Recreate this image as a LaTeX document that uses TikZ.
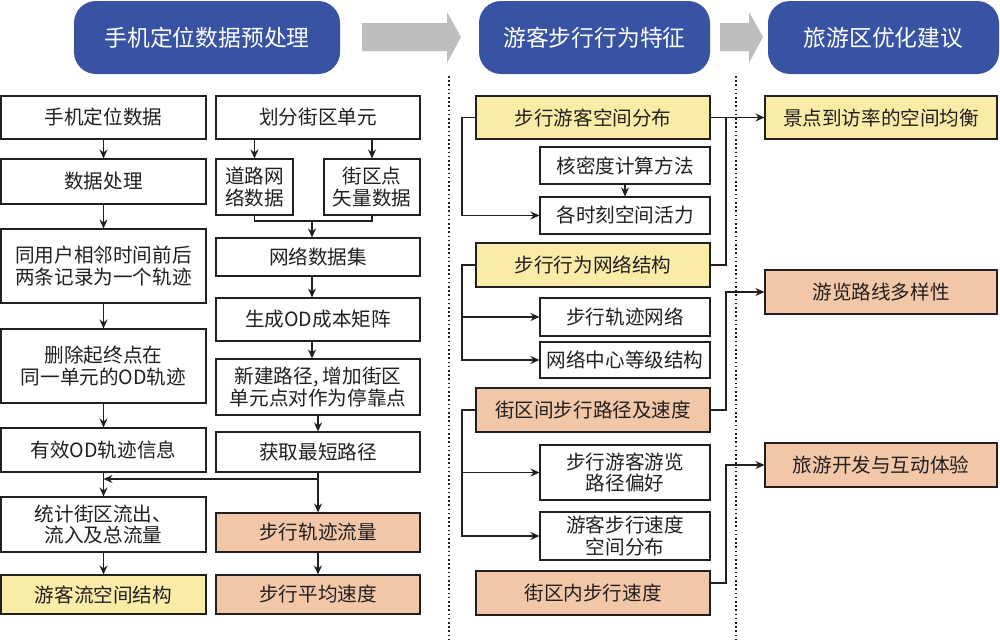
\documentclass[tikz,border=0pt]{standalone}
\usepackage{fontspec}
\setmainfont{Noto Sans CJK SC}
\usetikzlibrary{arrows.meta}
\definecolor{navy}{HTML}{3953A4}
\definecolor{yel}{HTML}{FAEBA6}
\definecolor{pch}{HTML}{F2C7A8}
\definecolor{ln}{HTML}{231F20}
\definecolor{garr}{HTML}{BEBEBE}
\newcommand\BX[7]{\node[box,#2,minimum width={#5-#3},minimum height={#6-#4}] (#1) at ({(#3+#5)/2},{(#4+#6)/2}) {#7};}
\begin{document}
\begin{tikzpicture}[x=1pt,y=-1pt,
  box/.style={draw=ln,line width=1.1pt,fill=white,inner sep=0pt,align=center,font=\fontsize{19.6}{21.5}\selectfont,text=ln},
  yb/.style={fill=yel},
  pb/.style={fill=pch},
  wb/.style={fill=white},
  hdr/.style={fill=navy,rounded corners=22pt,text=white,font=\fontsize{22.8}{24}\selectfont,inner sep=0pt},
  arr/.style={draw=ln,line width=1.1pt,-{Stealth[length=9pt,width=8pt]}},
  ln/.style={draw=ln,line width=1.1pt},
  dotline/.style={draw=ln,line width=1.6pt,dash pattern=on 1.6pt off 2.6pt}]
\useasboundingbox (0,0) rectangle (1000,640);
% headers
\node[hdr,minimum width=266,minimum height=73] (h1) at (207,37.5) {手机定位数据预处理};
\node[hdr,minimum width=231,minimum height=73] (h2) at (594.5,37.5) {游客步行行为特征};
\node[hdr,minimum width=231,minimum height=73] (h3) at (883.5,37.5) {旅游区优化建议};
\fill[garr] (362,23) -- (447,23) -- (447,12) -- (461,37) -- (447,63) -- (447,51) -- (362,51) -- cycle;
\fill[garr] (720,23) -- (749,23) -- (749,12) -- (763,37) -- (749,63) -- (749,51) -- (720,51) -- cycle;
% dotted separators
\draw[dotline] (449,76) -- (449,640);
\draw[dotline] (736,76) -- (736,640);
% left column
\BX{A}{wb}{1}{96}{206}{139}{手机定位数据}
\BX{C}{wb}{1}{159}{206}{204}{数据处理}
\BX{D}{wb}{1}{229}{206}{303}{同用户相邻时间前后\\两条记录为一个轨迹}
\BX{E}{wb}{1}{329}{206}{403}{删除起终点在\\同一单元的OD轨迹}
\BX{F}{wb}{1}{428}{206}{472}{有效OD轨迹信息}
\BX{G}{wb}{1}{497}{206}{552}{统计街区流出、\\流入及总流量}
\BX{H}{yb}{1}{575}{206}{614}{游客流空间结构}
% second column
\BX{B}{wb}{216}{96}{420}{139}{划分街区单元}
\BX{I}{wb}{216}{159}{293}{215}{道路网\\络数据}
\BX{J}{wb}{324}{159}{420}{215}{街区点\\矢量数据}
\BX{K}{wb}{216}{238}{420}{276}{网络数据集}
\BX{L}{wb}{216}{298}{420}{341}{生成OD成本矩阵}
\BX{M}{wb}{216}{359}{420}{415}{新建路径, 增加街区\\单元点对作为停靠点}
\BX{N}{wb}{216}{432}{420}{472}{获取最短路径}
\BX{O}{pb}{216}{513}{420}{552}{步行轨迹流量}
\BX{P}{pb}{216}{575}{420}{614}{步行平均速度}
% middle column
\BX{Q}{yb}{476}{96}{710}{139}{步行游客空间分布}
\BX{R}{wb}{540}{147}{710}{184}{核密度计算方法}
\BX{S}{wb}{540}{197}{710}{234}{各时刻空间活力}
\BX{T}{yb}{476}{243}{710}{287}{步行行为网络结构}
\BX{U}{wb}{540}{298}{710}{336}{步行轨迹网络}
\BX{V}{wb}{540}{342}{710}{378}{网络中心等级结构}
\BX{W}{pb}{476}{388}{710}{432}{街区间步行路径及速度}
\BX{Y}{wb}{540}{445}{710}{500}{步行游客游览\\路径偏好}
\BX{Z}{wb}{540}{512}{710}{560}{游客步行速度\\空间分布}
\BX{AA}{pb}{476}{571}{710}{615}{街区内步行速度}
% right column
\BX{K1}{yb}{765}{96}{997}{139}{景点到访率的空间均衡}
\BX{X}{pb}{765}{270}{997}{314}{游览路线多样性}
\BX{BB}{pb}{765}{443}{997}{487}{旅游开发与互动体验}
% left column connectors
\draw[arr] (A) -- (C);
\draw[arr] (C) -- (D);
\draw[arr] (D) -- (E);
\draw[arr] (E) -- (F);
\draw[arr] (F) -- (G);
\draw[arr] (G) -- (H);
% second column connectors
\draw[arr] (B.south -| I) -- (I.north);
\draw[arr] (B.south -| J) -- (J.north);
\coordinate (mg) at (312,221);
\draw[ln] (I.south) |- (mg) -| (J.south);
\draw[arr] (mg) -- (mg |- K.north);
\draw[arr] (K.south -| mg) -- (L.north -| mg);
\draw[arr] (L.south -| mg) -- (M.north -| mg);
\draw[arr] (M) -- (N);
\draw[arr] (N) -- (O);
\coordinate (br) at (318,479);
\draw[arr] (br) -- (br -| F.south);
\draw[arr] (O) -- (P);
% middle connectors
\coordinate (xl) at (462,0);
\coordinate (xr) at (726,0);
\draw[arr] (Q.west) -- (Q.west -| xl) |- (S.west);
\draw[arr] (R) -- (S);
\draw[arr] (Q.east) -- (K1.west);
\draw[ln] (T.east) -- (T.east -| xr) -- (Q.east -| xr);
\draw[arr] (T.west) -- (T.west -| xl) |- (V.west);
\draw[arr] (U.west -| xl) -- (U.west);
\draw[arr] (W.west) -- (W.west -| xl) |- (Z.west);
\draw[arr] (Y.west -| xl) -- (Y.west);
\draw[arr] (W.east) -- (W.east -| xr) |- (X.west);
\coordinate (aae) at ([yshift=10pt]AA.east);
\draw[arr] (aae) -- (aae -| xr) |- (BB.west);
\end{tikzpicture}
\end{document}
